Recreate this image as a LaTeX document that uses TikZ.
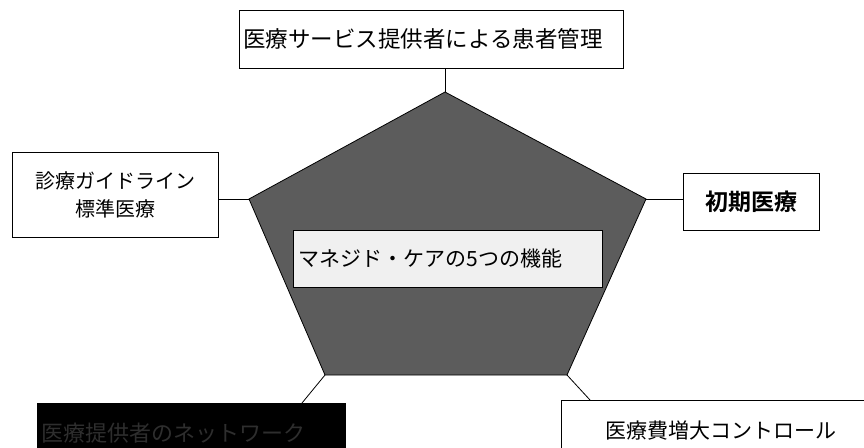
\documentclass[tikz,border=0pt]{standalone}
\usepackage{fontspec}
\newfontfamily\jp{Noto Sans CJK JP}[BoldFont={Noto Sans CJK JP Bold}]
\usetikzlibrary{calc}
\tikzset{
  box/.style={draw=black, line width=0.8pt, fill=white, rectangle, anchor=north west, inner sep=4pt, font=\jp},
  conn/.style={draw=black, line width=0.8pt},
}
\begin{document}
\begin{tikzpicture}[x=1pt,y=-1pt]
\useasboundingbox (0,0) rectangle (864,447);
% pentagon
\coordinate (pt) at (445,92);
\coordinate (pl) at (249,199);
\coordinate (pr) at (646,199);
\coordinate (pbl) at (325,375);
\coordinate (pbr) at (567,375);
\filldraw[fill=black!64, draw=black, line width=0.8pt] (pt) -- (pr) -- (pbr) -- (pbl) -- (pl) -- cycle;
% center label
\node[box, fill=black!6, minimum width=309pt, minimum height=57pt, text width=299pt, align=left, inner sep=5pt,
      font=\jp\fontsize{21}{25}\selectfont] (center) at (293,230) {マネジド・ケアの5つの機能};
% top box
\node[box, minimum width=384pt, minimum height=58pt, text width=376pt, align=left,
      font=\jp\fontsize{22.5}{26}\selectfont] (top) at (239,10) {医療サービス提供者による患者管理};
% left box
\node[box, minimum width=206pt, minimum height=85pt, text width=198pt, align=center,
      font=\jp\fontsize{20}{28}\selectfont] (left) at (12,152) {診療ガイドライン\\標準医療};
% right box
\node[box, minimum width=136pt, minimum height=57pt, text width=128pt, align=center,
      font=\jp\bfseries\fontsize{23}{27}\selectfont] (right) at (683,173) {初期医療};
% bottom-left box (black)
\node[box, fill=black, minimum width=308pt, minimum height=60pt, text width=300pt, align=left,
      text=black!82!white, font=\jp\fontsize{22}{26}\selectfont] (bl) at (37,403) {医療提供者のネットワーク};
% bottom-right box
\node[box, minimum width=320pt, minimum height=60pt, text width=290pt, align=left, inner sep=0pt,
      font=\jp\fontsize{21}{25}\selectfont] (br) at (561,400) {\hspace*{29pt}医療費増大コントロール};
% connector ends
\coordinate (blc) at (302,403);
\coordinate (brc) at (590,400);
% connectors
\draw[conn] (pt) -- (pt |- top.south);
\draw[conn] (pl) -- (left.east |- pl);
\draw[conn] (pr) -- (right.west |- pr);
\draw[conn] (pbl) -- (blc);
\draw[conn] (pbr) -- (brc);
\end{tikzpicture}
\end{document}
